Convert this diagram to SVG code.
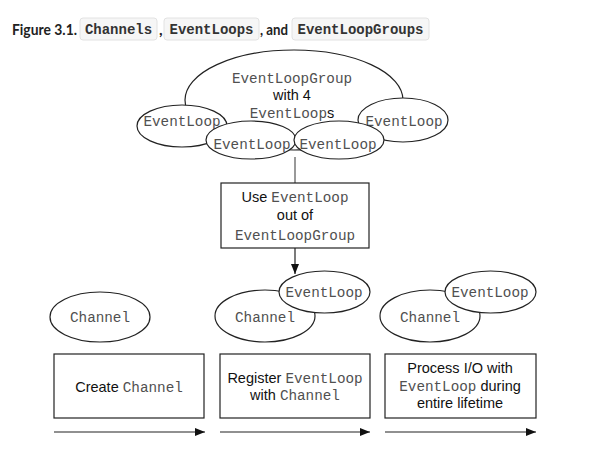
<svg xmlns="http://www.w3.org/2000/svg" width="590" height="466" viewBox="0 0 590 466">
<defs>
<style>
.sans{font-family:"Liberation Sans",Arial,sans-serif;font-size:14.5px;fill:#111}
.mono{font-family:"Liberation Mono","Courier New",monospace;font-size:14.3px;fill:#505050}
.title{font-family:Lato,"Liberation Sans",sans-serif;font-size:15.5px;font-weight:700;fill:#222}
.pill{fill:#f6f6f6;stroke:#e2e2e2;stroke-width:1}
.pilltxt{font-family:"Liberation Mono","Courier New",monospace;font-size:14px;font-weight:700;fill:#333}
.shape{fill:#fff;stroke:#222;stroke-width:1.2}
.conn{fill:none;stroke:#222;stroke-width:1.2}
</style>
<marker id="ah" viewBox="0 0 10 8" refX="10" refY="4" markerWidth="10" markerHeight="8" markerUnits="userSpaceOnUse" orient="auto">
<path d="M0,0 L10,4 L0,8 Z" fill="#111"/>
</marker>
</defs>
<rect width="590" height="466" fill="#fff"/>
<g id="title">
<text class="title" x="12" y="35" textLength="65" lengthAdjust="spacingAndGlyphs">Figure 3.1.</text>
<rect class="pill" x="80" y="18" width="77" height="22" rx="3"/>
<text class="pilltxt" x="118.5" y="34" text-anchor="middle">Channels</text>
<text class="title" x="159" y="35">,</text>
<rect class="pill" x="164" y="18" width="95" height="22" rx="3"/>
<text class="pilltxt" x="211.5" y="34" text-anchor="middle">EventLoops</text>
<text class="title" x="260" y="35" textLength="28" lengthAdjust="spacingAndGlyphs">, and</text>
<rect class="pill" x="292" y="18" width="137" height="22" rx="3"/>
<text class="pilltxt" x="360.5" y="34" text-anchor="middle">EventLoopGroups</text>
</g>
<g id="connectors">
<line x1="295" y1="157" x2="295" y2="183" stroke="#555" stroke-width="1.2"/>
<line class="conn" x1="295" y1="248" x2="295" y2="274" marker-end="url(#ah)"/>
<line class="conn" x1="54" y1="432" x2="205" y2="432" marker-end="url(#ah)"/>
<line class="conn" x1="220" y1="432" x2="370" y2="432" marker-end="url(#ah)"/>
<line class="conn" x1="385" y1="432" x2="536" y2="432" marker-end="url(#ah)"/>
</g>
<g id="eventLoopGroup">
<ellipse class="shape" cx="294" cy="100" rx="109" ry="50"/>
<text class="mono" x="292" y="83" text-anchor="middle">EventLoopGroup</text>
<text class="sans" x="292" y="100" text-anchor="middle">with 4</text>
<text x="292" y="118" text-anchor="middle"><tspan class="mono">EventLoop</tspan><tspan class="sans">s</tspan></text>
</g>
<g id="eventLoop1">
<ellipse class="shape" cx="182" cy="126" rx="45" ry="21"/>
<text class="mono" x="182" y="126" text-anchor="middle">EventLoop</text>
</g>
<g id="eventLoop4">
<ellipse class="shape" cx="403" cy="120" rx="45" ry="22"/>
<text class="mono" x="404" y="126" text-anchor="middle">EventLoop</text>
</g>
<g id="eventLoop2">
<ellipse class="shape" cx="251" cy="140" rx="45" ry="19"/>
<text class="mono" x="252" y="149" text-anchor="middle">EventLoop</text>
</g>
<g id="eventLoop3">
<ellipse class="shape" cx="339" cy="140" rx="45" ry="19"/>
<text class="mono" x="338" y="149" text-anchor="middle">EventLoop</text>
</g>
<g id="useBox">
<rect class="shape" x="221" y="183" width="148" height="65"/>
<text x="295" y="202" text-anchor="middle"><tspan class="sans">Use </tspan><tspan class="mono">EventLoop</tspan></text>
<text class="sans" x="295" y="220" text-anchor="middle">out of</text>
<text class="mono" x="295" y="240" text-anchor="middle">EventLoopGroup</text>
</g>
<g id="channel1">
<ellipse class="shape" cx="100" cy="317" rx="50" ry="25"/>
<text class="mono" x="100" y="322" text-anchor="middle">Channel</text>
</g>
<g id="channel2">
<ellipse class="shape" cx="265" cy="316" rx="50" ry="26"/>
<text class="mono" x="265" y="322" text-anchor="middle">Channel</text>
</g>
<g id="eventLoop5">
<ellipse class="shape" cx="324.5" cy="292" rx="45.5" ry="21"/>
<text class="mono" x="324" y="297" text-anchor="middle">EventLoop</text>
</g>
<g id="channel3">
<ellipse class="shape" cx="430" cy="316" rx="50" ry="26"/>
<text class="mono" x="430" y="322" text-anchor="middle">Channel</text>
</g>
<g id="eventLoop6">
<ellipse class="shape" cx="490.5" cy="292" rx="45.5" ry="21"/>
<text class="mono" x="490" y="297" text-anchor="middle">EventLoop</text>
</g>
<g id="createBox">
<rect class="shape" x="54" y="354" width="150" height="64"/>
<text x="129" y="392" text-anchor="middle"><tspan class="sans">Create </tspan><tspan class="mono">Channel</tspan></text>
</g>
<g id="registerBox">
<rect class="shape" x="220" y="354" width="150" height="64"/>
<text x="295" y="383" text-anchor="middle"><tspan class="sans">Register </tspan><tspan class="mono">EventLoop</tspan></text>
<text x="295" y="400" text-anchor="middle"><tspan class="sans">with </tspan><tspan class="mono">Channel</tspan></text>
</g>
<g id="processBox">
<rect class="shape" x="385" y="354" width="151" height="64"/>
<text class="sans" x="460" y="373" text-anchor="middle">Process I/O with</text>
<text x="460" y="391" text-anchor="middle"><tspan class="mono">EventLoop</tspan><tspan class="sans"> during</tspan></text>
<text class="sans" x="460" y="408" text-anchor="middle">entire lifetime</text>
</g>
</svg>
